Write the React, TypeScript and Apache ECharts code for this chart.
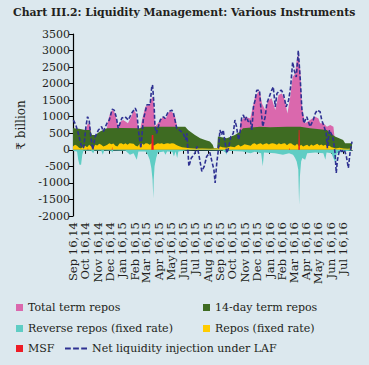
import React, { useEffect, useRef } from "react";
import * as echarts from "echarts";

const tickLabels = [
  "Sep 16,14", "Oct 16,14", "Nov 16,14", "Dec 16,14", "Jan 16,15", "Feb 16,15",
  "Mar 16,15", "Apr 16,15", "May16,15", "Jun 16,15", "Jul 16,15", "Aug 16,15",
  "Sep 16,15", "Oct 16,15", "Nov 16,15", "Dec 16,15", "Jan 16,16", "Feb 16,16",
  "Mar 16,16", "Apr 16,16", "May 16,16", "Jun 16,16", "Jul 16,16",
];

// [days since 16 Sep 2014, ₹ billion]
const netLiquidity: [number, number][] = [
  [1, 900], [7, 750], [13, 500], [20, 150], [25, 50], [27, 100], [32, 700], [36, 1000], [40, 900], [44, 400],
  [49, 0], [55, 400], [63, 600], [71, 700], [75, 550], [84, 800], [90, 900], [97, 1230], [102, 1200], [107, 1000],
  [112, 650], [121, 960], [129, 1000], [137, 900], [145, 1100], [154, 1260], [158, 1150], [162, 600], [168, 50],
  [174, 900], [183, 1360], [191, 1360], [195, 1900], [197, 1960], [201, 1300], [203, 700], [207, 500], [216, 900],
  [224, 1000], [228, 950], [236, 1150], [245, 1200], [249, 1100], [257, 650], [263, 600], [273, 500], [279, 300],
  [282, 500], [287, -500], [293, -250], [302, -100], [307, 100], [311, -100], [319, -650], [325, -500], [331, -200],
  [339, -80], [344, -350], [349, -600], [352, -1000], [356, -400], [360, 0], [364, 600], [368, 450], [372, 600],
  [377, 200], [381, -100], [385, 50], [391, 400], [397, 500], [401, 900], [405, 700], [410, 300], [414, 550],
  [418, 1000], [422, 1050], [426, 900], [430, 1000], [434, 850], [439, 900], [443, 600], [447, 1300], [451, 1500],
  [455, 1800], [462, 1800], [465, 1300], [470, 700], [476, 1000], [480, 1400], [486, 1600], [492, 1800], [496, 1900],
  [501, 1300], [505, 1700], [511, 1780], [516, 1800], [521, 1700], [528, 1300], [534, 1500], [539, 1900], [544, 2650],
  [548, 2400], [553, 2200], [558, 3000], [563, 2100], [567, 1200], [572, 800], [579, 1000], [587, 700], [595, 900],
  [600, 1100], [605, 1200], [612, 1150], [616, 900], [622, 700], [627, 500], [630, 50], [635, 600], [641, 450],
  [645, 300], [649, -100], [652, -700], [655, -300], [660, 0], [666, -50], [672, 0], [677, -200], [682, -550],
  [686, -100], [691, 250],
];

const totalTermRepos: [number, number][] = [
  [0, 500], [30, 500], [34, 700], [37, 800], [42, 750], [46, 400], [82, 500], [87, 900], [92, 1100], [97, 1200],
  [102, 1150], [107, 950], [112, 700], [117, 850], [124, 900], [131, 850], [136, 800], [144, 1000], [151, 1200],
  [156, 1100], [161, 700], [166, 600], [171, 900], [179, 1300], [186, 1350], [191, 1400], [196, 1600], [199, 1550],
  [203, 700], [210, 800], [216, 900], [223, 1000], [230, 950], [238, 1150], [245, 1150], [253, 1000], [258, 700],
  [265, 600], [285, 0], [408, 0], [415, 850], [426, 1000], [439, 950], [451, 1600], [462, 1800], [468, 1400],
  [476, 1200], [484, 1500], [492, 1560], [501, 1200], [509, 1660], [517, 1700], [525, 1500], [531, 1100], [538, 1600],
  [544, 2200], [550, 2300], [554, 2700], [558, 2900], [563, 2400], [567, 1300], [575, 800], [587, 900], [600, 1000],
  [608, 950], [612, 800], [620, 800], [629, 700], [637, 750], [645, 700], [648, 350], [655, 0], [691, 0],
];

const fourteenDayTermRepos: [number, number][] = [
  [0, 650], [15, 640], [30, 600], [42, 600], [47, 450], [55, 450], [67, 550], [84, 650], [120, 660], [166, 650],
  [173, 700], [230, 700], [278, 700], [285, 600], [290, 550], [302, 450], [315, 350], [327, 300], [339, 250],
  [346, 150], [349, 50], [357, 50], [359, 400], [381, 350], [401, 450], [414, 550], [421, 650], [463, 700],
  [488, 680], [530, 700], [563, 700], [587, 650], [629, 600], [637, 500], [649, 400], [669, 300], [674, 200],
  [691, 200],
];

const reposFixedRate: [number, number][] = [
  [0, 100], [5, 150], [10, 120], [15, 60], [20, 40], [25, 100], [30, 120], [35, 80], [40, 150], [45, 100], [50, 60],
  [55, 150], [60, 130], [65, 180], [70, 150], [75, 100], [80, 120], [85, 150], [90, 200], [95, 170], [100, 190],
  [105, 120], [110, 100], [115, 190], [120, 200], [125, 160], [130, 200], [135, 150], [140, 200], [145, 190],
  [150, 180], [155, 120], [160, 100], [165, 180], [170, 200], [175, 150], [180, 200], [185, 190], [190, 150],
  [195, 200], [200, 120], [205, 170], [210, 200], [215, 180], [220, 200], [225, 170], [230, 190], [235, 200],
  [240, 180], [245, 200], [250, 190], [255, 150], [260, 120], [265, 100], [270, 80], [280, 60], [290, 50], [300, 40],
  [320, 40], [340, 30], [355, 40], [360, 60], [365, 100], [370, 80], [380, 60], [390, 100], [400, 80], [405, 120],
  [410, 150], [415, 100], [420, 130], [425, 170], [430, 150], [440, 120], [445, 180], [450, 200], [455, 150],
  [460, 180], [465, 200], [470, 150], [475, 180], [480, 200], [485, 160], [490, 190], [495, 200], [500, 180],
  [505, 150], [510, 200], [515, 170], [520, 190], [525, 200], [530, 140], [535, 190], [540, 200], [545, 150],
  [550, 120], [555, 180], [560, 100], [565, 150], [570, 100], [575, 130], [580, 150], [585, 100], [590, 160],
  [595, 120], [600, 150], [605, 180], [610, 130], [615, 160], [620, 120], [625, 150], [630, 100], [635, 120],
  [640, 80], [645, 60], [650, 40], [660, 60], [670, 40], [680, 30], [691, 40],
];

const reverseReposFixedRate: [number, number][] = [
  [0, -30], [10, -50], [13, -300], [16, -450], [20, -450], [23, -150], [26, -30], [45, -30], [50, -100], [53, -20],
  [70, -30], [74, -150], [77, -20], [95, -30], [97, -80], [100, -20], [130, -30], [141, -150], [150, -100],
  [158, -300], [162, -50], [180, -50], [185, -150], [190, -300], [194, -550], [197, -900], [199, -1460], [200, -900],
  [202, -500], [206, -250], [210, -80], [225, -50], [229, -150], [233, -50], [246, -60], [250, -200], [254, -50],
  [258, -250], [261, -50], [280, -20], [300, -10], [370, -20], [378, -80], [380, -150], [383, -30], [420, -50],
  [440, -100], [450, -60], [466, -100], [470, -500], [473, -80], [500, -100], [520, -150], [535, -100], [545, -150],
  [550, -250], [554, -350], [558, -600], [560, -1660], [562, -800], [565, -350], [568, -250], [575, -300],
  [580, -100], [600, -80], [620, -100], [625, -300], [628, -80], [640, -100], [650, -400], [653, -100], [670, -50],
  [691, -20],
];

const msf: [number, number][] = [
  [0, 0], [36, 0], [37, 60], [38, 0], [96, 0], [97, 100], [98, 0], [194, 0], [195, 450], [199, 450], [200, 0],
  [535, 0], [536, 60], [537, 0], [558, 0], [559, 600], [561, 600], [562, 0], [691, 0],
];

const FONT = "DejaVu Serif";
const BG = "#dce8ee";
const TEXT = "#231f20";
const COLORS = {
  total: "#da68ad",
  fourteen: "#3e6b22",
  reverse: "#5fcdc4",
  repos: "#ffcc00",
  msf: "#ee1c25",
  net: "#2e3192",
};

const DASH_ICON = "path://M0 0H5V1.6H0Z M7 0H12V1.6H7Z M14 0H19V1.6H14Z";

const startUTC = Date.UTC(2014, 8, 16);
const tickDays = tickLabels.map((_, i) => Math.round((Date.UTC(2014, 8 + i, 16) - startUTC) / 86400000));

function area(name: string, data: [number, number][], color: string, z: number) {
  return {
    name,
    type: "line",
    data,
    color,
    symbol: "none",
    lineStyle: { width: 0 },
    areaStyle: { color, opacity: 1 },
    z,
  };
}

function legendItem(name: string, left: number, top: number, icon: string, w = 7, h = 7) {
  return {
    data: [name],
    left,
    top,
    icon,
    itemWidth: w,
    itemHeight: h,
    selectedMode: false,
    textStyle: { fontFamily: FONT, fontSize: 11, color: TEXT },
    padding: 0,
  };
}

export default function App() {
  const ref = useRef<HTMLDivElement>(null);
  useEffect(() => {
    if (!ref.current) return;
    const chart = echarts.init(ref.current, undefined, { renderer: "svg" });
    chart.setOption({
      animation: false,
      backgroundColor: BG,
      title: {
        text: "Chart III.2: Liquidity Management: Various Instruments",
        left: 13,
        top: 7,
        padding: 0,
        textStyle: { fontFamily: FONT, fontWeight: "bold", fontSize: 10.85, color: TEXT },
      },
      legend: [
        legendItem("Total term repos", 16, 302, "rect"),
        legendItem("14-day term repos", 203, 302, "rect"),
        legendItem("Reverse repos (fixed rate)", 16, 323, "rect"),
        legendItem("Repos (fixed rate)", 203, 323, "rect"),
        legendItem("MSF", 16, 343, "rect"),
        legendItem("Net liquidity injection under LAF", 65, 343, DASH_ICON, 22, 7),
      ],
      grid: { left: 73, right: 17, top: 34, bottom: 149 },
      xAxis: [
        {
          type: "value",
          min: 0,
          max: 691,
          position: "bottom",
          axisLine: { onZero: true, lineStyle: { color: "#000", width: 1.2 } },
          axisTick: { show: true, length: 4, customValues: tickDays, lineStyle: { color: "#000" } },
          axisLabel: { show: false },
          splitLine: { show: false },
        },
        {
          type: "value",
          min: 0,
          max: 691,
          position: "bottom",
          axisLine: { show: false, onZero: false },
          axisTick: { show: false },
          axisLabel: {
            show: true,
            rotate: 90,
            margin: 6,
            customValues: tickDays,
            formatter: (v: number) => {
              const i = tickDays.indexOf(Math.round(v));
              return i >= 0 ? tickLabels[i] : "";
            },
            fontFamily: FONT,
            fontSize: 11.6,
            color: TEXT,
          },
          splitLine: { show: false },
        },
      ],
      yAxis: {
        type: "value",
        min: -2000,
        max: 3500,
        interval: 500,
        name: "₹ billion",
        nameLocation: "middle",
        nameGap: 40,
        nameTextStyle: { fontFamily: FONT, fontSize: 12, color: TEXT },
        axisLine: { show: true, lineStyle: { color: "#000", width: 1.2 } },
        axisTick: { show: true, length: 4, lineStyle: { color: "#000" } },
        axisLabel: {
          fontFamily: FONT,
          fontSize: 11,
          color: TEXT,
          margin: 3,
          formatter: (v: number) => String(v),
        },
        splitLine: { show: false },
      },
      series: [
        area("Total term repos", totalTermRepos, COLORS.total, 1),
        area("14-day term repos", fourteenDayTermRepos, COLORS.fourteen, 2),
        area("Repos (fixed rate)", reposFixedRate, COLORS.repos, 3),
        area("Reverse repos (fixed rate)", reverseReposFixedRate, COLORS.reverse, 4),
        area("MSF", msf, COLORS.msf, 5),
        {
          name: "Net liquidity injection under LAF",
          type: "line",
          data: netLiquidity,
          color: COLORS.net,
          symbol: "none",
          lineStyle: { color: COLORS.net, width: 1.6, type: [4, 2] },
          z: 6,
        },
      ],
    });
    return () => chart.dispose();
  }, []);
  return (
    <div
      ref={ref}
      style={{ position: "fixed", left: 0, top: 0, width: 369, height: 365, background: BG }}
    />
  );
}
